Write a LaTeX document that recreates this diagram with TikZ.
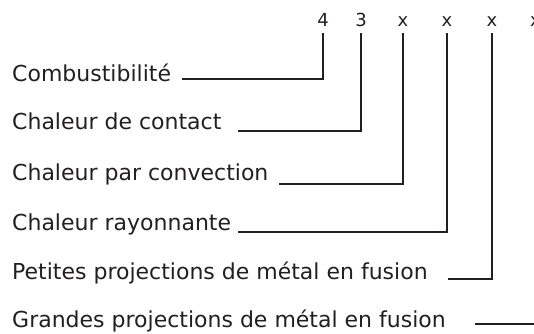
\documentclass[tikz,border=0pt]{standalone}
\usepackage{fontspec}
\setmainfont{DejaVu Sans}
\usepackage{tikz}
\usetikzlibrary{calc}
\definecolor{encre}{HTML}{231F20}

\begin{document}
\begin{tikzpicture}[x=1pt,y=1pt,
    nom/.style={anchor=base west,inner sep=0pt,text=encre,font=\fontsize{22}{26}\selectfont},
    chiffre/.style={anchor=base,inner sep=0pt,text=encre,font=\fontsize{18}{22}\selectfont},
    trait/.style={draw=encre,line width=1.9pt,shorten >=7pt}]
    \useasboundingbox (0,0) rectangle (534,-333);

    \node[chiffre] (c1) at (323,-26) {4};
    \node[chiffre] (c2) at (361,-26) {3};
    \node[chiffre] (c3) at (403,-26) {x};
    \node[chiffre] (c4) at (447,-26) {x};
    \node[chiffre] (c5) at (492,-26) {x};
    \node[chiffre] (c6) at (535.5,-26) {x};

    \node[nom] (n1) at (12,-81) {Combustibilité};
    \node[nom] (n2) at (12,-129) {Chaleur de contact};
    \node[nom] (n3) at (12,-180) {Chaleur par convection};
    \node[nom] (n4) at (12,-230) {Chaleur rayonnante};
    \node[nom] (n5) at (12,-279) {Petites projections de métal en fusion};
    \node[nom] (n6) at (12,-327) {Grandes projections de métal en fusion};

    \coordinate (d1) at (182,-79);
    \coordinate (d2) at (238,-131);
    \coordinate (d3) at (279,-184);
    \coordinate (d4) at (238,-232);
    \coordinate (d5) at (448,-279);
    \coordinate (d6) at (475,-324);

    \draw[trait] (d1) -| (c1.south);
    \draw[trait] (d2) -| (c2.south);
    \draw[trait] (d3) -| (c3.south);
    \draw[trait] (d4) -| (c4.south);
    \draw[trait] (d5) -| (c5.south);
    \draw[trait] (d6) -| (c6.south);
\end{tikzpicture}
\end{document}
